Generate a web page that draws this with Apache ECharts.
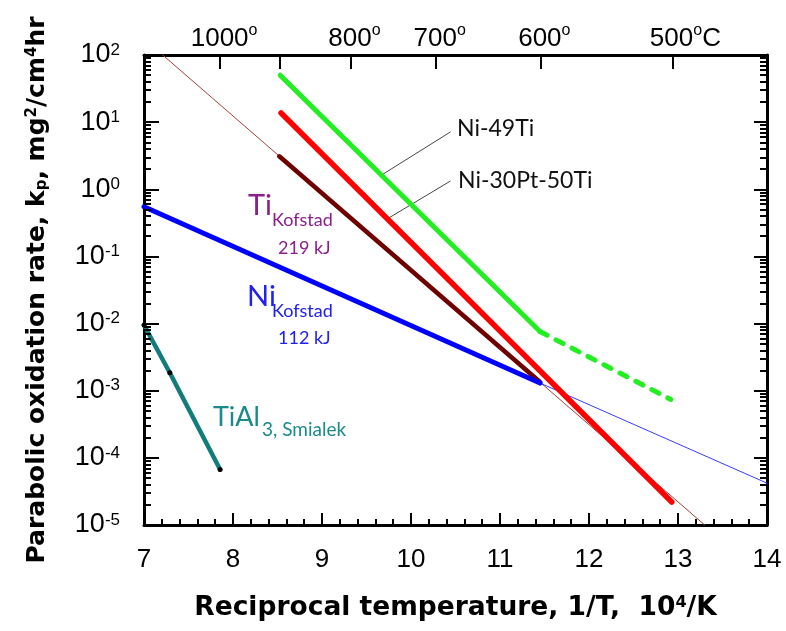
<!DOCTYPE html>
<html>
<head>
<meta charset="utf-8">
<script src="https://cdn.jsdelivr.net/npm/echarts@6/dist/echarts.min.js"></script>
<style>
  html, body { margin: 0; padding: 0; background: #fff; }
  #chart, #ticks { width: 786px; height: 631px; position: absolute; left: 0; top: 0; }
  #ticks { pointer-events: none; }
</style>
</head>
<body>
<div id="chart"></div>
<div id="ticks"></div>
<script>
// x: reciprocal temperature 1/T (10^4/K), y: parabolic rate kp (mg^2/cm^4hr)
const tiThinX = [7.21, 13.30];
const tiThinY = [100, 1e-5];
const tiThickX = [8.52, 11.45];
const tiThickY = [3.1, 1.35e-3];
const niThickX = [7.0, 11.45];
const niThickY = [0.55, 1.3e-3];
const niThinX = [11.45, 14.0];
const niThinY = [1.3e-3, 4.2e-5];
const ptX = [8.54, 12.93];
const ptY = [13.7, 2.2e-5];
const ni49X = [8.53, 11.45];
const ni49Y = [50, 7.6e-3];
const ni49DashX = [11.45, 12.92];
const ni49DashY = [7.6e-3, 7.4e-4];
const tial3X = [7.0, 7.29, 7.855];
const tial3Y = [9.5e-3, 1.85e-3, 6.7e-5];

// leader lines from the labels to the curves
const leader49X = [10.44, 9.65];
const leader49Y = [7.1, 1.57];
const leaderPtX = [10.44, 9.73];
const leaderPtY = [1.32, 0.36];

// top axis: temperatures 1000, 900, 800, 700, 600, 500 C
const topTicks = [7.855, 8.525, 9.320, 10.277, 11.453, 12.937];
const topLabelVals = [7.855, 9.320, 10.277, 11.453, 12.937];
const topLabels = ['1000', '800', '700', '600', '500'];

const pts = (xs, ys) => xs.map((x, i) => [x, ys[i]]);

const TITLE = 'DejaVu Sans, sans-serif';
const ANN = 'Lato, sans-serif';
const gridBox = () => ({ left: 144, top: 55, width: 623, height: 470 });
const black = () => ({ color: '#000', width: 2 });

const line = (data, color, width, extra) => Object.assign({
    type: 'line',
    data: data,
    showSymbol: false,
    symbol: 'none',
    silent: true,
    lineStyle: { color: color, width: width, cap: 'round' }
}, extra || {});

const option = {
    animation: false,
    textStyle: { fontFamily: 'Liberation Sans' },
    grid: gridBox(),
    xAxis: [
        {
            type: 'value', position: 'bottom', min: 7, max: 14, interval: 1,
            axisLine: { show: true, onZero: false, lineStyle: { color: '#000', width: 3 } },
            axisTick: { show: false },
            splitLine: { show: false },
            axisLabel: { fontSize: 26, color: '#000', margin: 22 },
            name: '{t|Reciprocal temperature, 1/T,  10}{s|4}{t|/K}',
            nameLocation: 'middle',
            nameGap: 70,
            nameTextStyle: {
                rich: {
                    t: { fontFamily: TITLE, fontSize: 26.5, fontWeight: 'bold', color: '#000', verticalAlign: 'bottom' },
                    s: { fontFamily: TITLE, fontSize: 16, fontWeight: 'bold', color: '#000', verticalAlign: 'top' }
                }
            }
        },
        {
            type: 'value', position: 'top', min: 7, max: 14,
            axisLine: { show: true, onZero: false, lineStyle: { color: '#000', width: 3 } },
            axisTick: { show: false },
            splitLine: { show: false },
            axisLabel: {
                customValues: topLabelVals,
                margin: 3,
                formatter: function (v) {
                    let k = 0;
                    topLabelVals.forEach((t, i) => { if (Math.abs(t - v) < Math.abs(topLabelVals[k] - v)) k = i; });
                    if (k === topLabels.length - 1) return '{p2|}{n|' + topLabels[k] + '}{s|o}{n|C}';
                    return '{p1|}{n|' + topLabels[k] + '}{s|o}';
                },
                rich: {
                    n: { fontSize: 26, color: '#000', verticalAlign: 'bottom' },
                    s: { fontSize: 16, color: '#000', verticalAlign: 'top', padding: [0, 0, 13, 0] },
                    p1: { width: 8 },
                    p2: { width: 26 }
                }
            }
        }
    ],
    yAxis: [
        {
            type: 'log', min: 1e-5, max: 1e2, position: 'left',
            axisLine: { show: true, lineStyle: { color: '#000', width: 3 } },
            axisTick: { show: false },
            splitLine: { show: false },
            axisLabel: {
                margin: 24,
                formatter: function (v) {
                    return '{b|10}{e|' + Math.round(Math.log10(v)) + '}';
                },
                rich: {
                    b: { fontSize: 27, color: '#000', verticalAlign: 'bottom' },
                    e: { fontSize: 17, color: '#000', verticalAlign: 'top' }
                }
            },
            name: '{t|Parabolic oxidation rate, k}{d|p}{t|, mg}{s|2}{t|/cm}{s|4}{t|hr}',
            nameLocation: 'middle',
            nameGap: 94,
            nameTextStyle: {
                rich: {
                    t: { fontFamily: TITLE, fontSize: 25, fontWeight: 'bold', color: '#000', verticalAlign: 'middle' },
                    d: { fontFamily: TITLE, fontSize: 15, fontWeight: 'bold', color: '#000', verticalAlign: 'bottom', padding: [10, 0, 0, 0] },
                    s: { fontFamily: TITLE, fontSize: 15, fontWeight: 'bold', color: '#000', verticalAlign: 'top' }
                }
            }
        },
        {
            type: 'log', min: 1e-5, max: 1e2, position: 'right',
            axisLine: { show: true, lineStyle: { color: '#000', width: 3 } },
            axisTick: { show: false },
            splitLine: { show: false },
            axisLabel: { show: false }
        }
    ],
    series: [
        line(pts(tiThinX, tiThinY), '#a0403c', 1),
        line(pts(niThinX, niThinY), '#3a3aff', 1),
        line(pts(leader49X, leader49Y), '#444', 1),
        line(pts(leaderPtX, leaderPtY), '#444', 1),
        line(pts(tiThickX, tiThickY), '#6e0000', 4.5),
        line(pts(niThickX, niThickY), '#0000ff', 5),
        line(pts(ptX, ptY), '#ff0000', 5.5),
        line(pts(ni49X, ni49Y), '#22ee22', 5),
        line(pts(ni49DashX, ni49DashY), '#22ee22', 5, {
            lineStyle: { color: '#22ee22', width: 5, type: [8, 10], cap: 'round' }
        }),
        line(pts(tial3X, tial3Y), '#127c7c', 4.5, {
            showSymbol: true, symbol: 'circle', symbolSize: 5,
            itemStyle: { color: '#000' }
        })
    ],
    graphic: [
        { type: 'text', style: { text: 'Ni-49Ti', x: 457, y: 129, font: '23px ' + ANN, fill: '#111', align: 'left', verticalAlign: 'middle' } },
        { type: 'text', style: { text: 'Ni-30Pt-50Ti', x: 458, y: 181, font: '23px ' + ANN, fill: '#111', align: 'left', verticalAlign: 'middle' } },
        { type: 'text', style: { text: 'Ti', x: 248, y: 206, font: '29px ' + ANN, fill: '#8b1e8b', align: 'left', verticalAlign: 'middle' } },
        { type: 'text', style: { text: 'Kofstad', x: 272, y: 220, font: '18px ' + ANN, fill: '#8b1e8b', align: 'left', verticalAlign: 'middle' } },
        { type: 'text', style: { text: '219 kJ', x: 278, y: 248, font: '18px ' + ANN, fill: '#8b1e8b', align: 'left', verticalAlign: 'middle' } },
        { type: 'text', style: { text: 'Ni', x: 247, y: 297, font: '29px ' + ANN, fill: '#2020f0', align: 'left', verticalAlign: 'middle' } },
        { type: 'text', style: { text: 'Kofstad', x: 272, y: 311, font: '18px ' + ANN, fill: '#2020f0', align: 'left', verticalAlign: 'middle' } },
        { type: 'text', style: { text: '112 kJ', x: 278, y: 338, font: '18px ' + ANN, fill: '#2020f0', align: 'left', verticalAlign: 'middle' } },
        { type: 'text', style: { text: 'TiAl', x: 213, y: 417, font: '27px ' + ANN, fill: '#1a8a8a', align: 'left', verticalAlign: 'middle' } },
        { type: 'text', style: { text: '3, Smialek', x: 262, y: 430, font: '19px ' + ANN, fill: '#1a8a8a', align: 'left', verticalAlign: 'middle' } }
    ]
};

// inward tick marks on all four sides, drawn by a second transparent chart on the same grid
const tickOption = {
    animation: false,
    backgroundColor: 'transparent',
    grid: gridBox(),
    xAxis: [
        {
            type: 'value', position: 'bottom', min: 7, max: 14, interval: 1,
            axisLine: { show: false, onZero: false },
            axisTick: { show: true, inside: true, length: 12, lineStyle: black() },
            minorTick: { show: true, splitNumber: 5, length: 6, lineStyle: black() },
            splitLine: { show: false },
            axisLabel: { show: false }
        },
        {
            type: 'value', position: 'top', min: 7, max: 14,
            axisLine: { show: false, onZero: false },
            axisTick: { show: true, inside: true, length: 14, customValues: topTicks, lineStyle: black() },
            splitLine: { show: false },
            axisLabel: { show: false }
        }
    ],
    yAxis: [
        {
            type: 'log', min: 1e-5, max: 1e2, position: 'left',
            axisLine: { show: false },
            axisTick: { show: true, inside: true, length: 15, lineStyle: black() },
            minorTick: { show: true, splitNumber: 9, length: 7, lineStyle: black() },
            splitLine: { show: false },
            axisLabel: { show: false }
        },
        {
            type: 'log', min: 1e-5, max: 1e2, position: 'right',
            axisLine: { show: false },
            axisTick: { show: true, inside: true, length: 13, lineStyle: black() },
            minorTick: { show: true, splitNumber: 9, length: 7, lineStyle: black() },
            splitLine: { show: false },
            axisLabel: { show: false }
        }
    ],
    series: [{ type: 'line', xAxisIndex: 0, yAxisIndex: 0, data: [], showSymbol: false }]
};

const chart = echarts.init(document.getElementById('chart'));
chart.setOption(option);
const tickChart = echarts.init(document.getElementById('ticks'));
tickChart.setOption(tickOption);
</script>
</body>
</html>
